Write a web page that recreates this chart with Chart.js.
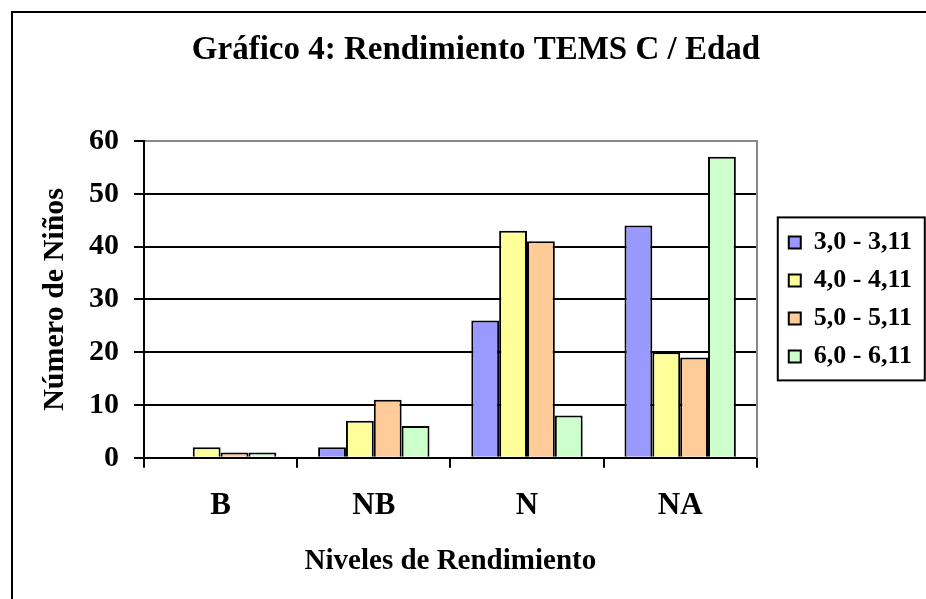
<!DOCTYPE html>
<html>
<head>
<meta charset="utf-8">
<script src="https://cdn.jsdelivr.net/npm/chart.js@4.4.1/dist/chart.umd.min.js"></script>
<style>
  html, body { margin: 0; padding: 0; background: #fff; overflow: hidden; }
  #frame { position: absolute; left: 11px; top: 11px; width: 2000px; height: 2000px; border: 2px solid #000; }
  #wrap { position: absolute; left: 0; top: 0; width: 926px; height: 599px; }
</style>
</head>
<body>
<div id="frame"></div>
<div id="wrap"><canvas id="chart" width="926" height="599"></canvas></div>
<script>
// data
const categories = ["B", "NB", "N", "NA"];
const seriesNames = ["3,0 - 3,11", "4,0 - 4,11", "5,0 - 5,11", "6,0 - 6,11"];
const age3 = [0, 2, 26, 44];
const age4 = [2, 7, 43, 20];
const age5 = [1, 11, 41, 19];
const age6 = [1, 6, 8, 57];
const yTicks = [0, 10, 20, 30, 40, 50, 60];

const colors = ["#9999FF", "#FFFF99", "#FFCC99", "#CCFFCC"];
const serif = "'Liberation Serif', 'Times New Roman', serif";

// box round the legend, like the Excel one
const legendFrame = {
    id: "legendFrame",
    afterDraw(chart) {
        const hb = chart.legend.legendHitBoxes;
        if (!hb || !hb.length) return;
        const ctx = chart.ctx;
        const first = hb[0], last = hb[hb.length - 1];
        ctx.save();
        ctx.strokeStyle = "#000";
        ctx.lineWidth = 2;
        ctx.strokeRect(first.left - 11, first.top - 12, 147, last.top + last.height - first.top + 23);
        ctx.restore();
    }
};

new Chart(document.getElementById("chart"), {
    type: "bar",
    data: {
        labels: categories,
        datasets: [age3, age4, age5, age6].map((vals, i) => ({
            label: seriesNames[i],
            data: vals,
            backgroundColor: colors[i],
            borderColor: "#000",
            borderWidth: 2,
            borderSkipped: "start",
            categoryPercentage: 0.727,
            barPercentage: 1.0
        }))
    },
    options: {
        responsive: false,
        animation: false,
        layout: { padding: { left: 30, right: 4, top: 0, bottom: 0 } },
        plugins: {
            title: {
                display: true,
                text: "Gráfico 4: Rendimiento TEMS C / Edad",
                color: "#000",
                font: { family: serif, size: 33, weight: "bold" },
                padding: { top: 30.2, bottom: 71.2 }
            },
            legend: {
                position: "right",
                fullSize: false,
                labels: {
                    color: "#000",
                    boxWidth: 12,
                    boxHeight: 12,
                    padding: 12,
                    font: { family: serif, size: 26, weight: "bold" }
                }
            },
            tooltip: { enabled: false }
        },
        scales: {
            x: {
                z: 1,
                grid: { display: true, drawOnChartArea: false, drawTicks: true, tickLength: 10, color: "#000", lineWidth: 2, offset: true },
                border: { display: true, color: "#000", width: 2 },
                ticks: { color: "#000", padding: 19.6, font: { family: serif, size: 31, weight: "bold" } },
                title: {
                    display: true,
                    text: "Niveles de Rendimiento",
                    color: "#000",
                    font: { family: serif, size: 29, weight: "bold" },
                    padding: { top: 0, bottom: 20 }
                }
            },
            y: {
                min: 0,
                max: 60,
                afterBuildTicks: s => { s.ticks = yTicks.map(v => ({ value: v })); },
                grid: {
                    color: c => (c.tick && c.tick.value === 60 ? "#888888" : "#000"),
                    tickColor: "#000",
                    lineWidth: 2,
                    tickLength: 10
                },
                border: { display: true, color: "#000", width: 2 },
                ticks: { color: "#000", padding: 15, font: { family: serif, size: 30, weight: "bold" } },
                title: {
                    display: true,
                    text: "Número de Niños",
                    color: "#000",
                    font: { family: serif, size: 30, weight: "bold" },
                    padding: { top: 7, bottom: 1 }
                }
            },
            y2: {
                position: "right",
                min: 0,
                max: 60,
                grid: { display: false },
                ticks: { display: false },
                border: { display: true, color: "#888888", width: 2 },
                afterFit: s => { s.width = 20; }
            }
        }
    },
    plugins: [legendFrame]
});
</script>
</body>
</html>
